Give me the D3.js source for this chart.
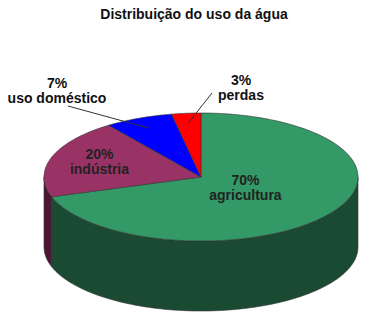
<!DOCTYPE html>
<html>
<head>
<meta charset="utf-8">
<script src="https://cdn.jsdelivr.net/npm/d3@7"></script>
<style>
  body { margin: 0; background: #fff; }
  .container { width: 367px; height: 316px; }
  text { font-family: "Liberation Sans", Arial, sans-serif; font-weight: bold; font-size: 14px; }
</style>
</head>
<body>
<div class="container"></div>
<script>
const categories = ["agricultura", "indústria", "uso doméstico", "perdas"];
const values = [70, 20, 7, 3];
const percentLabels = ["70%", "20%", "7%", "3%"];
const topColors = ["#339966", "#993366", "#0000ff", "#ff0000"];
const sideColors = ["#1b4a33", "#4a1832", "#00007f", "#7f0000"];

// label layout: inner labels sit at a fraction of the radius, outer ones get a leader line
const labelLayout = [
    { inner: true, f: 0.35 },
    { inner: true, f: 0.68 },
    { inner: false, f: 0.83, tx: 57, ty: 88, lx: 68, ly: 106 },
    { inner: false, f: 0.85, tx: 241, ty: 85, lx: 212, ly: 93 }
];

const container = d3.select(".container");
const width = 367, height = 316;
const svg = container.append("svg")
    .attr("width", width)
    .attr("height", height);

const cx = 201, cy = 177, rx = 157, ry = 64, depth = 70;

function pt(a, f = 1, dy = 0) {
    return [cx + rx * f * Math.sin(a), cy - ry * f * Math.cos(a) + dy];
}

const pie = d3.pie().sort(null).value(d => d);
const arcs = pie(values);
const line = d3.line();

function sample(a0, a1) {
    const n = Math.max(2, Math.ceil((a1 - a0) / 0.02));
    return d3.range(n + 1).map(i => a0 + (a1 - a0) * i / n);
}

// side walls (only the front half is visible)
const walls = svg.append("g");
arcs.forEach((d, i) => {
    const a0 = Math.max(d.startAngle, Math.PI / 2);
    const a1 = Math.min(d.endAngle, Math.PI * 1.5);
    if (a1 <= a0) return;
    const angles = sample(a0, a1);
    const pts = angles.map(a => pt(a))
        .concat(angles.slice().reverse().map(a => pt(a, 1, depth)));
    walls.append("path")
        .attr("d", line(pts) + "Z")
        .attr("fill", sideColors[i])
        .attr("stroke", "#333")
        .attr("stroke-width", 0.6)
        .attr("stroke-linejoin", "round");
});

// top faces
const tops = svg.append("g");
arcs.forEach((d, i) => {
    const pts = [[cx, cy]].concat(sample(d.startAngle, d.endAngle).map(a => pt(a)));
    tops.append("path")
        .attr("d", line(pts) + "Z")
        .attr("fill", topColors[i])
        .attr("stroke", "#333")
        .attr("stroke-width", 0.6)
        .attr("stroke-linejoin", "round");
});

// title
svg.append("text")
    .attr("x", 194)
    .attr("y", 19)
    .attr("text-anchor", "middle")
    .attr("fill", "#111")
    .text("Distribuição do uso da água");

// labels
const labels = svg.append("g");
arcs.forEach((d, i) => {
    const lay = labelLayout[i];
    const mid = (d.startAngle + d.endAngle) / 2;
    const p = pt(mid, lay.f);
    let x, y;
    if (lay.inner) {
        x = p[0];
        y = p[1] - 5;
    } else {
        labels.append("line")
            .attr("x1", lay.lx).attr("y1", lay.ly)
            .attr("x2", p[0]).attr("y2", p[1])
            .attr("stroke", "#333")
            .attr("stroke-width", 1);
        x = lay.tx;
        y = lay.ty;
    }
    const t = labels.append("text")
        .attr("text-anchor", "middle")
        .attr("fill", lay.inner ? "#222" : "#111");
    t.append("tspan").attr("x", x).attr("y", y).text(percentLabels[i]);
    t.append("tspan").attr("x", x).attr("y", y + 15).text(categories[i]);
});
</script>
</body>
</html>
